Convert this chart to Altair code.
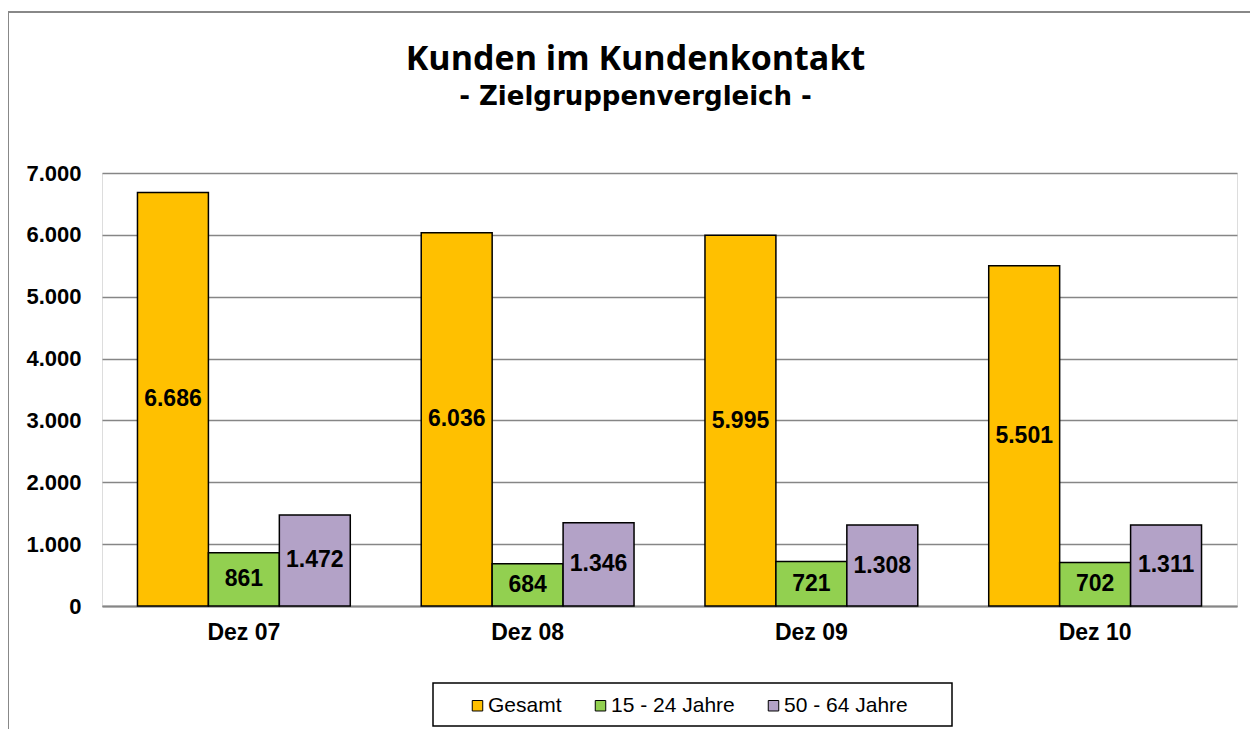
import altair as alt
import pandas as pd

categories = ["Dez 07", "Dez 08", "Dez 09", "Dez 10"]
series = ["Gesamt", "15 - 24 Jahre", "50 - 64 Jahre"]
gesamt = [6686, 6036, 5995, 5501]
jung = [861, 684, 721, 702]
alt_50 = [1472, 1346, 1308, 1311]
colors = ["#FFC000", "#92D050", "#B3A2C7"]
y_ticks = [0, 1000, 2000, 3000, 4000, 5000, 6000, 7000]
title_text = "Kunden im Kundenkontakt"
subtitle_text = "- Zielgruppenvergleich -"

rows = []
for name, vals in zip(series, [gesamt, jung, alt_50]):
    for c, v in zip(categories, vals):
        rows.append({"Monat": c, "Gruppe": name, "Wert": v})
df = pd.DataFrame(rows)

W, H = 1135, 433
PL, PT = 94, 165

x = alt.X("Monat:N", sort=categories, title=None,
          scale=alt.Scale(paddingInner=0.25, paddingOuter=0.125),
          axis=alt.Axis(labelAngle=0, labelFont="Liberation Sans", labelFontSize=23,
                        labelFontWeight="bold", labelColor="black", labelPadding=15,
                        ticks=False, domainColor="#868686", domainWidth=2))
xo = alt.XOffset("Gruppe:N", sort=series, scale=alt.Scale(paddingInner=0, paddingOuter=0))

base = alt.Chart(df)

bars = base.mark_bar(stroke="black", strokeWidth=1.5).encode(
    x=x,
    xOffset=xo,
    y=alt.Y("Wert:Q", title=None,
            scale=alt.Scale(domain=[0, 7000], nice=False),
            axis=alt.Axis(values=y_ticks,
                          labelExpr="replace(format(datum.value, ','), ',', '.')",
                          labelFont="Liberation Sans", labelFontSize=22, labelFontWeight="bold",
                          labelColor="black", labelPadding=21, ticks=False, domain=False,
                          grid=True, gridColor="#868686", gridWidth=1.3)),
    color=alt.Color("Gruppe:N", sort=series,
                    scale=alt.Scale(domain=series, range=colors),
                    legend=alt.Legend(title=None, orient="none", direction="horizontal",
                                      legendX=365, legendY=522, columns=3,
                                      symbolType="square", symbolSize=110,
                                      symbolStrokeColor="black", symbolStrokeWidth=1,
                                      labelFont="Liberation Sans", labelFontSize=21,
                                      labelColor="black", columnPadding=28,
                                      padding=0, labelOffset=0)),
)

labels = base.transform_calculate(
    mid="datum.Wert / 2",
    lab="replace(format(datum.Wert, ','), ',', '.')",
).mark_text(font="Liberation Sans", fontSize=23, fontWeight="bold", color="black",
            baseline="middle", align="center").encode(
    x=x,
    xOffset=xo,
    y=alt.Y("mid:Q"),
    text="lab:N",
)

one = pd.DataFrame({"a": [0]})
title = alt.Chart(one).mark_text(font="Open Sans", fontSize=34, fontWeight="bold",
                                 color="black", align="center", baseline="alphabetic").encode(
    x=alt.value(W / 2 - 34), y=alt.value(-103), text=alt.value(title_text))
subtitle = alt.Chart(one).mark_text(font="DejaVu Sans", fontSize=26, fontWeight="bold",
                                    color="black", align="center", baseline="alphabetic").encode(
    x=alt.value(W / 2 - 34), y=alt.value(-68), text=alt.value(subtitle_text))

legend_box = alt.Chart(one).mark_rect(fill="white", stroke="black", strokeWidth=1.5).encode(
    x=alt.value(331), x2=alt.value(850), y=alt.value(510), y2=alt.value(553))

frame_left = alt.Chart(one).mark_rule(color="#888888", strokeWidth=2).encode(
    x=alt.value(-PL), y=alt.value(-PT + 4), y2=alt.value(H + 200))
frame_top = alt.Chart(one).mark_rule(color="#888888", strokeWidth=2).encode(
    x=alt.value(-PL), x2=alt.value(W + 200), y=alt.value(-PT + 4))

chart = alt.layer(legend_box, bars, labels, title, subtitle, frame_left, frame_top).properties(
    width=W, height=H,
    autosize=alt.AutoSizeParams(type="none"),
    padding={"left": PL, "top": PT, "right": 13, "bottom": 123},
).configure_view(stroke="black", strokeWidth=1.3).configure(background="white")

chart.save("out.html", embed_options={"renderer": "svg", "actions": False})
